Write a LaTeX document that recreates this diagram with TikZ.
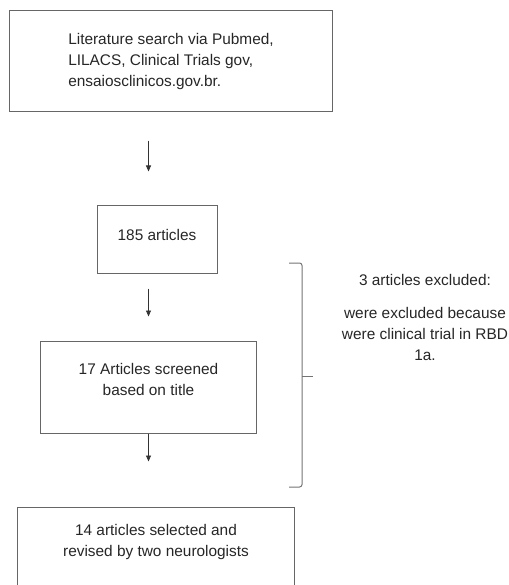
\documentclass[tikz,border=0pt]{standalone}
\usepackage{fontspec}
\setmainfont{Liberation Sans}
\usetikzlibrary{arrows.meta}
\tikzset{
	block/.style = {
		shape=rectangle,
		draw=black!60,
		line width=1bp,
		align=center,
		inner sep=0pt,
		text=black!85,
		font=\fontsize{15.4bp}{21bp}\selectfont
	},
	bracket/.style = {
		draw=black!55,
		line width=1bp,
		rounded corners=2.5bp
	},
	>={Triangle[length=6bp,width=5bp]}
}

\begin{document}
\begin{tikzpicture}[x=1bp,y=1bp]
		\clip (0,0) rectangle (509,-585);
		\node[block, align=left, minimum width=322bp, minimum height=101bp] (search) at (171,-61.5) {
			Literature search via Pubmed,\\
			LILACS, Clinical Trials gov,\\
			ensaiosclinicos.gov.br.
		};
		\node[block, minimum width=120bp, minimum height=68bp, text depth=9bp] (found) at (157,-239) {185 articles};
		\node[block, minimum width=215bp, minimum height=92bp, text depth=15bp] (screened) at (148.5,-387) {
			17 Articles screened\\
			based on title
		};
		\node[block, minimum width=276bp, minimum height=120bp, text depth=54bp] (selected) at (156,-567) {
			14 articles selected and\\
			revised by two neurologists
		};
		\node[block, draw=none, anchor=north] (excluded) at (425,-274) {
			3 articles excluded:\\[12bp]
			were excluded because\\
			were clinical trial in RBD\\
			1a.
		};
		\draw[line width=0.8bp, black!80, ->, shorten <=28bp, shorten >=33bp] (search.south -| screened.north) -- (found.north -| screened.north);
		\draw[line width=0.8bp, black!80, ->, shorten <=15bp, shorten >=24bp] (found.south -| screened.north) -- (screened.north);
		\draw[line width=0.8bp, black!80, ->, shorten >=45bp] (screened.south) -- (selected.north -| screened.south);
		\draw[bracket] (289,-263) -| (302,-487) -- (289,-487);
		\draw[bracket] (302,-376) -- (313,-376);
\end{tikzpicture}
\end{document}
